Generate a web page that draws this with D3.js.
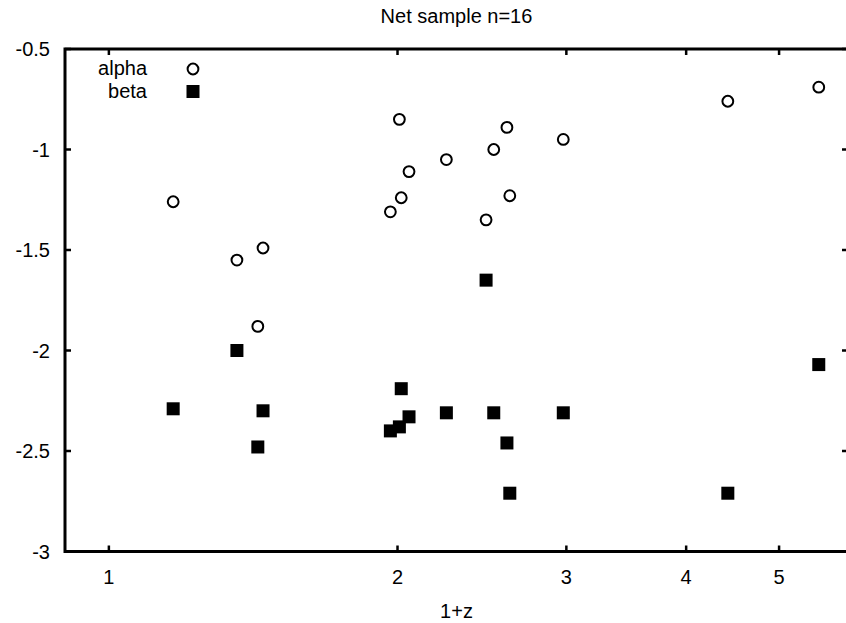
<!DOCTYPE html>
<html><head><meta charset="utf-8">
<script src="https://cdn.jsdelivr.net/npm/d3@7"></script>
<style>body{margin:0;background:#fff}text{font-family:"Liberation Sans",Arial,sans-serif}</style>
</head><body>
<script>
const onePlusZ = [1.167,1.360,1.430,1.448,1.966,2.009,2.018,2.056,2.249,2.474,2.520,2.601,2.619,2.978,4.421,5.500];
const alpha    = [-1.26,-1.55,-1.88,-1.49,-1.31,-0.85,-1.24,-1.11,-1.05,-1.35,-1.00,-0.89,-1.23,-0.95,-0.76,-0.69];
const beta     = [-2.29,-2.00,-2.48,-2.30,-2.40,-2.38,-2.19,-2.33,-2.31,-1.65,-2.31,-2.46,-2.71,-2.31,-2.71,-2.07];
const xTicks = [1,2,3,4,5];
const yTicks = [-0.5,-1,-1.5,-2,-2.5,-3];
const title = "Net sample n=16";
const xLabel = "1+z";
const seriesNames = ["alpha","beta"];

const W=846,H=623;
const L=65,R=848,T=49,B=551.5;
const FS=20;
const svg=d3.select("body").append("svg").attr("width",W).attr("height",H);
const x=d3.scaleLog().domain([0.9,5.9]).range([L,R]);
const y=d3.scaleLinear().domain([-3,-0.5]).range([B,T]);

// ticks (inward, mirrored)
const tl=6;
const g=svg.append("g").attr("stroke","#000").attr("stroke-width",2.5);
xTicks.forEach(v=>{
  g.append("line").attr("x1",x(v)).attr("x2",x(v)).attr("y1",B).attr("y2",B-tl);
  g.append("line").attr("x1",x(v)).attr("x2",x(v)).attr("y1",T).attr("y2",T+tl);
});
yTicks.forEach(v=>{
  g.append("line").attr("x1",L).attr("x2",L+tl).attr("y1",y(v)).attr("y2",y(v));
  g.append("line").attr("x1",R).attr("x2",R-tl).attr("y1",y(v)).attr("y2",y(v));
});
svg.append("rect").attr("x",L).attr("y",T).attr("width",R-L).attr("height",B-T)
  .attr("fill","none").attr("stroke","#000").attr("stroke-width",3);

// tick labels
svg.append("g").selectAll("text").data(xTicks).join("text")
  .attr("x",d=>x(d)).attr("y",584).attr("text-anchor","middle").attr("font-size",FS).text(d=>d);
svg.append("g").selectAll("text").data(yTicks).join("text")
  .attr("x",50).attr("y",d=>y(d)+7).attr("text-anchor","end").attr("font-size",FS).text(d=>d);

svg.append("text").attr("x",(L+R)/2).attr("y",23).attr("text-anchor","middle").attr("font-size",FS).text(title);
svg.append("text").attr("x",(L+R)/2).attr("y",618).attr("text-anchor","middle").attr("font-size",FS).text(xLabel);

// points
const pts=onePlusZ.map((z,i)=>({z,a:alpha[i],b:beta[i]}));
const sq=13;
svg.append("g").selectAll("rect").data(pts).join("rect")
  .attr("x",d=>x(d.z)-sq/2).attr("y",d=>y(d.b)-sq/2).attr("width",sq).attr("height",sq).attr("fill","#000");
svg.append("g").selectAll("circle").data(pts).join("circle")
  .attr("cx",d=>x(d.z)).attr("cy",d=>y(d.a)).attr("r",5.4)
  .attr("fill","#fff").attr("stroke","#000").attr("stroke-width",2);

// legend
svg.append("text").attr("x",147).attr("y",75).attr("text-anchor","end").attr("font-size",FS).text(seriesNames[0]);
svg.append("text").attr("x",147).attr("y",98).attr("text-anchor","end").attr("font-size",FS).text(seriesNames[1]);
svg.append("circle").attr("cx",193).attr("cy",69).attr("r",5.4).attr("fill","#fff").attr("stroke","#000").attr("stroke-width",2);
svg.append("rect").attr("x",193-sq/2).attr("y",91.5-sq/2).attr("width",sq).attr("height",sq).attr("fill","#000");
</script>
</body></html>
